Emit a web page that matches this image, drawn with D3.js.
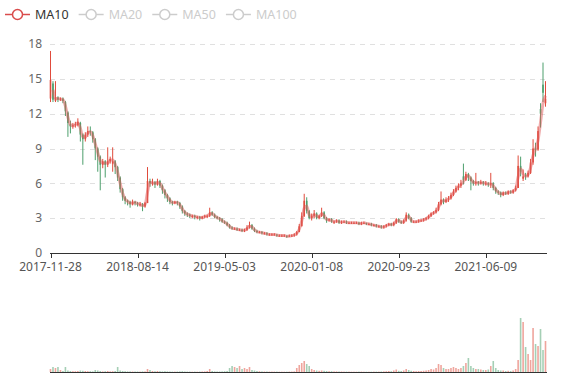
<!DOCTYPE html>
<html>
<head>
<meta charset="utf-8">
<script src="https://cdn.jsdelivr.net/npm/d3@7"></script>
<style>
  body { margin: 0; background: #fff; }
  svg { display: block; font-family: "Noto Sans", sans-serif; }
</style>
</head>
<body>
<div id="chart"></div>
<script>
// one candle per trading week, [open, close, low, high]
const legendNames = ['MA10', 'MA20', 'MA50', 'MA100'];
const yTicks = [0, 3, 6, 9, 12, 15, 18];
const xTickIndex = [0, 35, 70, 105, 140, 175];
const xTickLabels = ['2017-11-28', '2018-08-14', '2019-05-03', '2020-01-08', '2020-09-23', '2021-06-09'];

const ohlc = [
    [13.3,14.9,13.0,17.4],[14.6,13.2,13.0,14.8],[13.1,13.4,13.0,14.8],[13.4,13.2,13.0,13.5],[13.2,13.3,13.1,13.4],
    [13.3,13.1,12.9,13.4],[13.0,12.2,11.8,13.1],[12.1,11.2,10.0,12.2],[11.1,10.9,10.3,11.4],[10.9,11.0,10.7,11.2],
    [11.0,11.1,10.8,11.3],[11.0,11.3,10.9,11.6],[11.2,10.2,9.6,11.3],[10.2,9.8,7.6,10.3],[9.8,10.2,9.6,10.4],
    [10.2,10.5,10.0,10.9],[10.5,10.4,10.1,10.9],[10.4,9.8,9.5,10.5],[9.8,9.0,8.0,9.9],[9.0,8.3,7.0,9.1],
    [8.3,7.6,5.4,8.4],[7.6,7.9,7.3,8.1],[7.9,7.6,6.5,8.0],[7.6,7.9,7.4,9.1],[7.9,8.1,7.7,8.3],
    [7.7,7.9,7.0,9.1],[7.9,7.4,6.8,8.0],[7.4,6.5,6.2,7.5],[6.5,5.5,5.2,6.6],[5.5,4.8,4.5,5.6],
    [4.8,4.5,4.2,4.9],[4.5,4.4,4.1,4.6],[4.4,4.2,3.9,4.5],[4.2,4.4,4.1,4.6],[4.4,4.3,4.1,4.5],
    [4.3,4.2,4.0,4.4],[4.2,4.2,4.0,4.4],[4.2,4.0,3.6,4.3],[4.0,4.3,3.9,4.4],[4.3,6.2,4.3,7.4],
    [6.2,6.0,5.7,6.4],[6.0,6.1,5.8,6.4],[6.1,5.9,5.6,6.2],[5.9,6.2,5.8,6.4],[6.2,5.8,5.6,6.3],
    [5.8,5.4,5.1,5.9],[5.4,5.0,4.7,5.5],[5.0,4.7,4.4,5.1],[4.7,4.4,4.2,4.8],[4.4,4.3,4.1,4.5],
    [4.3,4.4,4.2,4.5],[4.4,4.3,4.1,4.5],[4.3,4.0,3.8,4.4],[4.0,3.6,3.4,4.1],[3.6,3.4,3.2,3.7],
    [3.4,3.3,3.1,3.5],[3.3,3.2,3.0,3.4],[3.2,3.2,3.0,3.3],[3.2,3.1,2.9,3.3],[3.1,3.1,2.9,3.2],
    [3.1,3.0,2.8,3.2],[3.0,3.1,2.9,3.2],[3.1,3.2,3.0,3.3],[3.2,3.2,3.0,3.3],[3.2,3.5,3.1,3.9],
    [3.5,3.3,3.2,3.6],[3.3,3.1,3.0,3.4],[3.1,3.0,2.9,3.2],[3.0,2.9,2.7,3.1],[2.9,2.7,2.6,3.0],
    [2.7,2.6,2.5,2.8],[2.6,2.4,2.3,2.7],[2.4,2.2,2.1,2.5],[2.2,2.1,2.0,2.3],[2.1,2.1,2.0,2.2],
    [2.1,2.0,1.9,2.2],[2.0,2.0,1.9,2.1],[2.0,1.9,1.8,2.1],[1.9,2.0,1.8,2.1],[2.0,2.2,1.9,2.4],
    [2.2,2.4,2.1,2.7],[2.4,2.1,2.0,2.5],[2.1,1.9,1.8,2.2],[1.9,1.8,1.7,2.0],[1.8,1.8,1.7,1.9],
    [1.8,1.7,1.6,1.9],[1.7,1.7,1.6,1.8],[1.7,1.6,1.5,1.8],[1.6,1.6,1.5,1.7],[1.6,1.6,1.5,1.7],
    [1.6,1.6,1.5,1.7],[1.6,1.5,1.4,1.6],[1.5,1.5,1.4,1.6],[1.5,1.5,1.4,1.6],[1.5,1.5,1.4,1.6],
    [1.5,1.4,1.3,1.5],[1.4,1.5,1.4,1.6],[1.5,1.5,1.4,1.6],[1.5,1.6,1.4,1.7],[1.6,1.8,1.5,1.9],
    [1.8,2.3,1.8,2.5],[2.3,3.2,2.3,3.5],[3.2,4.5,3.1,5.1],[4.5,3.6,3.4,4.8],[3.6,3.0,2.9,3.7],
    [3.0,3.2,2.8,3.4],[3.2,3.4,3.0,3.7],[3.4,3.0,2.9,3.5],[3.0,3.2,2.9,3.3],[3.2,3.5,3.1,3.9],
    [3.5,3.0,2.9,3.6],[3.0,2.8,2.6,3.1],[2.8,2.9,2.7,3.0],[2.9,2.7,2.6,3.0],[2.7,2.7,2.5,2.8],
    [2.7,2.8,2.6,2.9],[2.8,2.6,2.5,2.9],[2.6,2.7,2.5,2.8],[2.7,2.7,2.6,2.8],[2.7,2.6,2.5,2.8],
    [2.6,2.6,2.5,2.7],[2.6,2.6,2.5,2.7],[2.6,2.6,2.5,2.7],[2.6,2.6,2.5,2.7],[2.6,2.5,2.4,2.7],
    [2.5,2.6,2.4,2.7],[2.6,2.6,2.5,2.7],[2.6,2.5,2.4,2.6],[2.5,2.5,2.4,2.6],[2.5,2.4,2.3,2.6],
    [2.4,2.4,2.3,2.5],[2.4,2.3,2.2,2.5],[2.3,2.3,2.2,2.4],[2.3,2.2,2.1,2.4],[2.2,2.3,2.1,2.4],
    [2.3,2.4,2.2,2.5],[2.4,2.5,2.3,2.6],[2.5,2.4,2.3,2.6],[2.4,2.6,2.3,2.7],[2.6,2.9,2.5,3.0],
    [2.9,2.7,2.6,3.0],[2.7,2.6,2.5,2.8],[2.6,2.8,2.5,2.9],[2.8,3.3,2.7,3.5],[3.3,3.0,2.9,3.4],
    [3.0,2.7,2.6,3.1],[2.7,2.7,2.6,2.8],[2.7,2.7,2.6,2.8],[2.7,2.8,2.6,2.9],[2.8,2.8,2.7,2.9],
    [2.8,2.9,2.7,3.0],[2.9,3.0,2.8,3.1],[3.0,3.2,2.9,3.3],[3.2,3.4,3.1,3.5],[3.4,3.5,3.3,3.6],
    [3.5,3.7,3.4,3.9],[3.7,4.2,3.6,4.4],[4.2,4.6,4.1,5.3],[4.6,4.4,4.2,4.7],[4.4,4.6,4.3,4.8],
    [4.6,4.7,4.4,4.9],[4.7,5.0,4.6,5.2],[5.0,5.3,4.9,5.5],[5.3,5.6,5.2,5.8],[5.6,5.8,5.4,6.0],
    [5.8,6.0,5.6,6.3],[6.6,6.3,5.9,7.7],[6.3,6.8,6.2,7.0],[6.8,6.5,6.2,6.9],[6.5,6.2,5.4,6.6],
    [6.2,6.0,5.8,6.3],[6.0,6.1,5.8,6.9],[6.1,6.0,5.8,6.2],[6.0,6.1,5.9,6.3],[6.1,6.0,5.8,6.2],
    [6.0,6.0,5.8,6.2],[6.0,5.9,5.7,6.1],[5.9,6.0,5.6,6.9],[6.0,5.6,5.4,6.1],[5.6,5.3,5.1,5.7],
    [5.3,5.2,5.0,5.4],[5.2,5.0,4.8,5.3],[5.0,5.2,4.9,5.3],[5.2,5.1,5.0,5.3],[5.1,5.3,5.0,5.4],
    [5.3,5.2,5.1,5.4],[5.2,5.4,5.1,5.5],[5.4,5.6,5.3,5.8],[5.6,7.5,5.6,8.4],[7.5,7.0,6.6,8.3],
    [6.4,6.6,6.2,7.2],[6.7,6.6,6.3,6.9],[6.6,6.9,6.5,7.1],[6.9,7.8,6.8,8.1],[7.8,9.0,7.6,9.8],
    [9.0,8.9,8.3,9.5],[8.9,10.5,8.8,10.9],[12.4,12.0,10.8,12.9],[14.5,13.8,13.0,16.4],[12.9,13.3,12.6,14.8]
];

const volumes = [
    30,50,40,50,20, 10,50,15,10,8, 8,10,15,12,10, 8,8,6,20,15,
    10,6,8,10,6, 8,10,50,15,10, 8,6,6,5,5, 5,4,6,6,30,
    20,10,8,10,8, 6,8,6,5,4, 4,5,6,8,5, 4,4,3,4,3,
    4,5,6,10,30, 10,6,5,5,6, 8,10,40,60,50, 40,60,30,40,30,
    50,20,15,10,8, 6,5,5,4,4, 4,4,3,3,3, 3,4,4,6,40,
    70,90,110,80,60, 30,20,15,12,15, 12,10,8,8,6, 6,5,5,4,4,
    4,3,3,3,4, 4,3,3,3,3, 4,4,4,5,6, 8,10,8,15,25,
    12,10,15,30,20, 12,10,8,10,10, 12,15,20,30,25, 40,80,70,40,30,
    30,40,50,40,30, 40,60,90,140,60, 40,30,30,25,20, 20,25,60,110,40,
    20,15,15,10,12, 10,15,30,120,540, 500,250,180,120,440, 280,260,430,220,310
];

const closes = ohlc.map(d => d[1]);
// each candle is about one trading week, so 2 candles cover 10 sessions
const maLen = 2;
const ma10 = closes.map((c, i) => i < maLen - 1 ? null : d3.mean(closes.slice(i - maLen + 1, i + 1)));

const width = 577, height = 380;
const plotLeft = 50, plotRight = 547, plotTop = 44, plotBottom = 253;
const volTop = 300, volBottom = 372;
const upColor = '#e04b3c', downColor = '#4c9f6c';

const svg = d3.select('#chart').append('svg')
    .attr('width', width)
    .attr('height', height);

const x = d3.scalePoint()
    .domain(d3.range(ohlc.length))
    .range([50.5, 545.5]);
const y = d3.scaleLinear().domain([0, 18]).range([plotBottom, plotTop]);
const yVol = d3.scaleLinear().domain([0, 720]).range([volBottom, volTop]);
const bodyW = 1.6;

// gridlines
svg.append('g')
    .selectAll('line')
    .data(yTicks.filter(t => t > 0))
    .enter().append('line')
    .attr('x1', plotLeft).attr('x2', plotRight)
    .attr('y1', d => Math.round(y(d)) + 0.5)
    .attr('y2', d => Math.round(y(d)) + 0.5)
    .style('stroke', '#e0e0e0')
    .style('stroke-dasharray', '5,5');

// y labels
svg.append('g')
    .selectAll('text')
    .data(yTicks)
    .enter().append('text')
    .attr('x', 42)
    .attr('y', d => y(d))
    .attr('dy', '0.35em')
    .attr('text-anchor', 'end')
    .text(d => d)
    .style('font-size', '12px')
    .style('fill', '#666');

// candles
const candle = svg.append('g').selectAll('g')
    .data(ohlc)
    .enter().append('g');

candle.append('line')
    .attr('x1', (d, i) => x(i))
    .attr('x2', (d, i) => x(i))
    .attr('y1', d => y(d[3]))
    .attr('y2', d => y(d[2]))
    .style('stroke', d => d[1] >= d[0] ? upColor : downColor)
    .style('stroke-width', 1);

candle.append('rect')
    .attr('x', (d, i) => x(i) - bodyW / 2)
    .attr('y', d => y(Math.max(d[0], d[1])))
    .attr('width', bodyW)
    .attr('height', d => Math.max(1, Math.abs(y(d[0]) - y(d[1]))))
    .style('fill', d => d[1] >= d[0] ? upColor : downColor);

// MA10 line
const line = d3.line()
    .defined(d => d != null)
    .x((d, i) => x(i))
    .y(d => y(d))
    .curve(d3.curveMonotoneX);

svg.append('path')
    .datum(ma10)
    .attr('d', line)
    .style('fill', 'none')
    .style('stroke', '#e05a5a')
    .style('stroke-opacity', 0.5)
    .style('stroke-width', 3);

// x axis
const xAxis = svg.append('g');
xAxis.append('line')
    .attr('x1', plotLeft).attr('x2', plotRight)
    .attr('y1', plotBottom + 0.5).attr('y2', plotBottom + 0.5)
    .style('stroke', '#333');
xAxis.selectAll('line.tick')
    .data(xTickIndex)
    .enter().append('line')
    .attr('class', 'tick')
    .attr('x1', d => Math.round(x(d)) + 0.5)
    .attr('x2', d => Math.round(x(d)) + 0.5)
    .attr('y1', plotBottom)
    .attr('y2', plotBottom + 5)
    .style('stroke', '#333');
xAxis.selectAll('text')
    .data(xTickIndex)
    .enter().append('text')
    .attr('x', d => x(d))
    .attr('y', plotBottom + 18)
    .attr('text-anchor', 'middle')
    .text((d, i) => xTickLabels[i])
    .style('font-size', '12px')
    .style('fill', '#555');

// volume bars
svg.append('g')
    .selectAll('rect')
    .data(volumes)
    .enter().append('rect')
    .attr('x', (d, i) => x(i) - bodyW / 2)
    .attr('y', d => yVol(d))
    .attr('width', bodyW)
    .attr('height', d => volBottom - yVol(d))
    .style('fill', (d, i) => ohlc[i][1] >= ohlc[i][0] ? upColor : downColor)
    .style('fill-opacity', 0.5);

svg.append('line')
    .attr('x1', plotLeft).attr('x2', plotRight)
    .attr('y1', volBottom + 0.5).attr('y2', volBottom + 0.5)
    .style('stroke', '#333');

// legend
let lx = 5;
legendNames.forEach((name, i) => {
    const on = i === 0;
    const col = on ? '#d94c4c' : '#ccc';
    const g = svg.append('g');
    g.append('line')
        .attr('x1', lx).attr('x2', lx + 25)
        .attr('y1', 14.5).attr('y2', 14.5)
        .style('stroke', col).style('stroke-width', 1.5);
    g.append('circle')
        .attr('cx', lx + 12.5).attr('cy', 14.5).attr('r', 5)
        .style('fill', '#fff').style('stroke', col).style('stroke-width', 1.5);
    const t = g.append('text')
        .attr('x', lx + 30)
        .attr('y', 14.5)
        .attr('dy', '0.35em')
        .text(name)
        .style('font-size', '12.5px')
        .style('fill', on ? '#333' : '#ccc');
    lx += 30 + t.node().getComputedTextLength() + 10;
});
</script>
</body>
</html>
